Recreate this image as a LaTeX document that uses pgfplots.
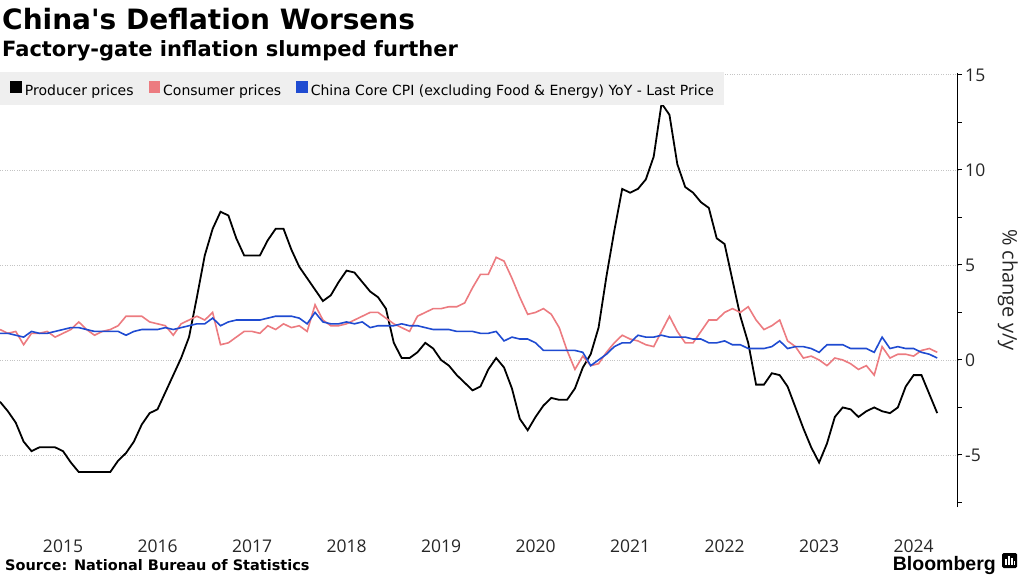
\documentclass[border=0pt]{standalone}
\usepackage{fontspec}
\setmainfont{DejaVu Sans}
\newfontfamily\dv{DejaVu Sans}
\newfontfamily\osans{Open Sans}
\newfontfamily\heros{Liberation Sans}
\usepackage{pgfplots}
\pgfplotsset{compat=1.18}
\usepackage{pgfplotstable}

\definecolor{cpi}{HTML}{EC7B80}
\definecolor{core}{HTML}{1F4BD1}
\definecolor{leggray}{HTML}{EFEFEF}
\definecolor{gridgray}{HTML}{C4C4C4}

% m = months since Oct 2014 (month-end), y/y % change
\pgfplotstableread{
m ppi cpi core
0 -2.2 1.6 1.4
1 -2.7 1.4 1.4
2 -3.3 1.5 1.3
3 -4.3 0.8 1.2
4 -4.8 1.4 1.5
5 -4.6 1.4 1.4
6 -4.6 1.5 1.4
7 -4.6 1.2 1.5
8 -4.8 1.4 1.6
9 -5.4 1.6 1.7
10 -5.9 2.0 1.7
11 -5.9 1.6 1.6
12 -5.9 1.3 1.5
13 -5.9 1.5 1.5
14 -5.9 1.6 1.5
15 -5.3 1.8 1.5
16 -4.9 2.3 1.3
17 -4.3 2.3 1.5
18 -3.4 2.3 1.6
19 -2.8 2.0 1.6
20 -2.6 1.9 1.6
21 -1.7 1.8 1.7
22 -0.8 1.3 1.6
23 0.1 1.9 1.7
24 1.2 2.1 1.8
25 3.3 2.3 1.9
26 5.5 2.1 1.9
27 6.9 2.5 2.2
28 7.8 0.8 1.8
29 7.6 0.9 2.0
30 6.4 1.2 2.1
31 5.5 1.5 2.1
32 5.5 1.5 2.1
33 5.5 1.4 2.1
34 6.3 1.8 2.2
35 6.9 1.6 2.3
36 6.9 1.9 2.3
37 5.8 1.7 2.3
38 4.9 1.8 2.2
39 4.3 1.5 1.9
40 3.7 2.9 2.5
41 3.1 2.1 2.0
42 3.4 1.8 1.9
43 4.1 1.8 1.9
44 4.7 1.9 2.0
45 4.6 2.1 1.9
46 4.1 2.3 2.0
47 3.6 2.5 1.7
48 3.3 2.5 1.8
49 2.7 2.2 1.8
50 0.9 1.9 1.8
51 0.1 1.7 1.9
52 0.1 1.5 1.8
53 0.4 2.3 1.8
54 0.9 2.5 1.7
55 0.6 2.7 1.6
56 0.0 2.7 1.6
57 -0.3 2.8 1.6
58 -0.8 2.8 1.5
59 -1.2 3.0 1.5
60 -1.6 3.8 1.5
61 -1.4 4.5 1.4
62 -0.5 4.5 1.4
63 0.1 5.4 1.5
64 -0.4 5.2 1.0
65 -1.5 4.3 1.2
66 -3.1 3.3 1.1
67 -3.7 2.4 1.1
68 -3.0 2.5 0.9
69 -2.4 2.7 0.5
70 -2.0 2.4 0.5
71 -2.1 1.7 0.5
72 -2.1 0.5 0.5
73 -1.5 -0.5 0.5
74 -0.4 0.2 0.4
75 0.3 -0.3 -0.3
76 1.7 -0.2 0.0
77 4.4 0.4 0.3
78 6.8 0.9 0.7
79 9.0 1.3 0.9
80 8.8 1.1 0.9
81 9.0 1.0 1.3
82 9.5 0.8 1.2
83 10.7 0.7 1.2
84 13.5 1.5 1.3
85 12.9 2.3 1.2
86 10.3 1.5 1.2
87 9.1 0.9 1.2
88 8.8 0.9 1.1
89 8.3 1.5 1.1
90 8.0 2.1 0.9
91 6.4 2.1 0.9
92 6.1 2.5 1.0
93 4.2 2.7 0.8
94 2.3 2.5 0.8
95 0.9 2.8 0.6
96 -1.3 2.1 0.6
97 -1.3 1.6 0.6
98 -0.7 1.8 0.7
99 -0.8 2.1 1.0
100 -1.4 1.0 0.6
101 -2.5 0.7 0.7
102 -3.6 0.1 0.7
103 -4.6 0.2 0.6
104 -5.4 0.0 0.4
105 -4.4 -0.3 0.8
106 -3.0 0.1 0.8
107 -2.5 0.0 0.8
108 -2.6 -0.2 0.6
109 -3.0 -0.5 0.6
110 -2.7 -0.3 0.6
111 -2.5 -0.8 0.4
112 -2.7 0.7 1.2
113 -2.8 0.1 0.6
114 -2.5 0.3 0.7
115 -1.4 0.3 0.6
116 -0.8 0.2 0.6
117 -0.8 0.5 0.4
118 -1.8 0.6 0.3
119 -2.8 0.4 0.1
}\china

\begin{document}
\begin{tikzpicture}[x=1pt,y=1pt]
\path[use as bounding box] (0pt,0pt) rectangle (1024pt,576pt);

\node[anchor=base west, inner sep=0pt, font=\dv\bfseries\fontsize{28}{30}\selectfont] at (2pt,546.7pt) {China's Deflation Worsens};
\node[anchor=base west, inner sep=0pt, font=\dv\bfseries\fontsize{21}{24}\selectfont] at (2pt,519.3pt) {Factory-gate inflation slumped further};

\begin{axis}[
  at={(0pt,69pt)}, anchor=south west,
  scale only axis, width=957.7pt, height=434pt,
  xmin=0, xmax=121.6, ymin=-7.74, ymax=15.1,
  axis x line*=bottom, x axis line style={draw=none},
  axis y line*=right, y axis line style={line width=1.2pt, black},
  xtick={8,20,32,44,56,68,80,92,104,116},
  xticklabels={2015,2016,2017,2018,2019,2020,2021,2022,2023,2024},
  xtick style={draw=none},
  xticklabel style={font=\osans\fontsize{17.5}{20}\selectfont, anchor=base, yshift=-41pt, text=black!85},
  ytick={-5,0,5,10,15}, yticklabels={-5,0,5,10,15},
  minor ytick={-7.5,-2.5,2.5,7.5,12.5},
  tick align=outside, major tick length=4pt, minor tick length=4pt,
  ytick style={line width=1pt, black},
  yticklabel style={font=\osans\fontsize{17.5}{20}\selectfont, text=black!85},
  ymajorgrids, grid style={gridgray, dotted, line width=0.8pt},
  ylabel={\% change y/y},
  every axis y label/.style={at={(axis description cs:1,0.5)}, xshift=50pt, rotate=-90, anchor=center, font=\osans\fontsize{20}{22}\selectfont, text=black!85},
  legend columns=3,
  legend style={at={(axis description cs:0,1)}, anchor=north west, yshift=1pt,
    fill=leggray, draw=none, inner xsep=10pt, inner ysep=8.5pt,
    font=\dv\fontsize{14}{16}\selectfont, nodes={inner sep=0pt},
    /tikz/every odd column/.append style={column sep=3pt},
    /tikz/every even column/.append style={column sep=15pt}},
  legend image code/.code={\fill[#1] (0pt,-1.3pt) rectangle (10pt,9pt);},
]
\addplot[black, line width=1.8pt] table[x=m, y=ppi] {\china};
\addlegendentry{Producer prices}
\addplot[cpi, line width=1.6pt] table[x=m, y=cpi] {\china};
\addlegendentry{Consumer prices}
\addplot[core, line width=1.6pt] table[x=m, y=core] {\china};
\addlegendentry{China Core CPI (excluding Food \& Energy) YoY - Last Price}
\end{axis}

\node[anchor=base west, inner sep=0pt, font=\dv\bfseries\fontsize{14.5}{16}\selectfont] at (5pt,6pt) {Source: National Bureau of Statistics};
\node[anchor=base east, inner sep=0pt, font=\heros\bfseries\fontsize{19.5}{22}\selectfont] at (996pt,6pt) {Bloomberg};
\fill[black, rounded corners=1.5pt] (1002pt,8pt) rectangle (1017pt,23pt);
\fill[white] (1005pt,11pt) rectangle (1006.5pt,17pt);
\fill[white] (1008pt,11pt) rectangle (1009.5pt,20pt);
\fill[white] (1011pt,11pt) rectangle (1012.5pt,18pt);
\fill[white] (1014pt,11pt) rectangle (1015pt,15pt);
\end{tikzpicture}
\end{document}
